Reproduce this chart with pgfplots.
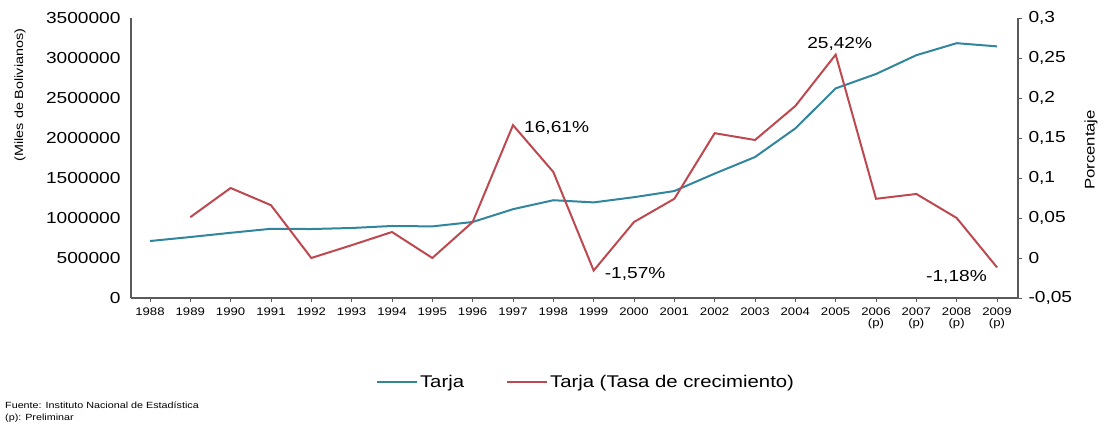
\documentclass[border=0pt]{standalone}
\usepackage{fontspec}
\setmainfont{Liberation Sans}[FakeStretch=1.2]
\usepackage{pgfplots}
\pgfplotsset{compat=1.18}

\definecolor{tarja}{RGB}{49,133,156}
\definecolor{tasa}{RGB}{190,72,80}
\definecolor{axisgray}{RGB}{90,90,90}

\newcommand{\fs}[1]{\fontsize{#1}{#1}\selectfont}

\pgfplotsset{
  base/.style={
    at={(131bp,136bp)}, anchor=south west,
    scale only axis, width=887bp, height=280bp,
    xmin=1987.53, xmax=2009.52,
    axis line style={axisgray, line width=1.2bp},
    /pgf/number format/assume math mode=true,
    tick style={axisgray, line width=0.8bp},
    tick align=outside,
    major tick length=4bp,
  },
}

\begin{document}
\begin{tikzpicture}[x=1bp,y=1bp]
\path[use as bounding box] (0,0) rectangle (1109,434);

\begin{axis}[
  base,
  ymin=0, ymax=3500000,
  axis x line*=bottom, axis y line*=left,
  xtick={1988,...,2009},
  xticklabels={1988,1989,1990,1991,1992,1993,1994,1995,1996,1997,1998,1999,2000,2001,2002,2003,2004,2005,{2006\\(p)},{2007\\(p)},{2008\\(p)},{2009\\(p)}},
  x tick label style={font=\fs{11}, align=center, anchor=north, yshift=-2bp},
  ytick={0,500000,...,3500000},
  scaled y ticks=false,
  y tick label style={font=\fs{16}, /pgf/number format/fixed, /pgf/number format/1000 sep={}, xshift=-3bp},
  ytick style={draw=none},
]
\addplot[tarja, line width=2bp] coordinates {
  (1988,712000) (1989,762000) (1990,815000) (1991,865000) (1992,862000)
  (1993,875000) (1994,900000) (1995,895000) (1996,950000) (1997,1110000)
  (1998,1222000) (1999,1195000) (2000,1260000) (2001,1337000) (2002,1555000)
  (2003,1762000) (2004,2120000) (2005,2620000) (2006,2800000) (2007,3035000)
  (2008,3185000) (2009,3145000)
};
\end{axis}

\begin{axis}[
  base,
  ymin=-0.05, ymax=0.3,
  axis x line=none, axis y line*=right,
  ytick={-0.05,0,0.05,0.1,0.15,0.2,0.25,0.3},
  y tick label style={font=\fs{16}, /pgf/number format/fixed, /pgf/number format/use comma, xshift=3bp},
  legend style={at={(0.513,-0.30)}, anchor=center, draw=none, fill=none,
    font=\fs{17}, legend columns=-1,
    /tikz/every even column/.append style={column sep=40bp}},
  legend image code/.code={\draw[#1, line width=2bp] (0bp,0bp) -- (40bp,0bp);},
]
\addlegendimage{tarja}
\addlegendentry{Tarja}
\addplot[tasa, line width=2bp] coordinates {
  (1989,0.051) (1990,0.0875) (1991,0.066) (1992,0.0) (1993,0.016)
  (1994,0.0325) (1995,0.0) (1996,0.045) (1997,0.1661) (1998,0.1075)
  (1999,-0.0157) (2000,0.045) (2001,0.074) (2002,0.156) (2003,0.1475)
  (2004,0.19) (2005,0.2542) (2006,0.074) (2007,0.08) (2008,0.05)
  (2009,-0.0118)
};
\addlegendentry{Tarja (Tasa de crecimiento)}
\node[anchor=west, inner sep=0, font=\fs{16}, xshift=11bp, yshift=-3bp] at (axis cs:1997,0.1661) {16,61\%};
\node[anchor=west, inner sep=0, font=\fs{16}, xshift=11bp, yshift=-3bp] at (axis cs:1999,-0.0157) {-1,57\%};
\node[anchor=base, inner sep=0, font=\fs{16}, xshift=4bp, yshift=6bp] at (axis cs:2005,0.2542) {25,42\%};
\node[anchor=east, inner sep=0, font=\fs{16}, xshift=-10bp, yshift=-10bp] at (axis cs:2009,-0.0118) {-1,18\%};
\end{axis}

\node[rotate=90, font=\fs{12}] at (20,339) {(Miles de Bolivianos)};
\node[rotate=90, font=\fs{14}] at (1091,284) {Porcentaje};
\node[anchor=west, inner sep=0, font=\fs{9}] at (5,29) {Fuente: Instituto Nacional de Estadística};
\node[anchor=west, inner sep=0, font=\fs{9}] at (5,16) {(p): Preliminar};
\end{tikzpicture}
\end{document}
